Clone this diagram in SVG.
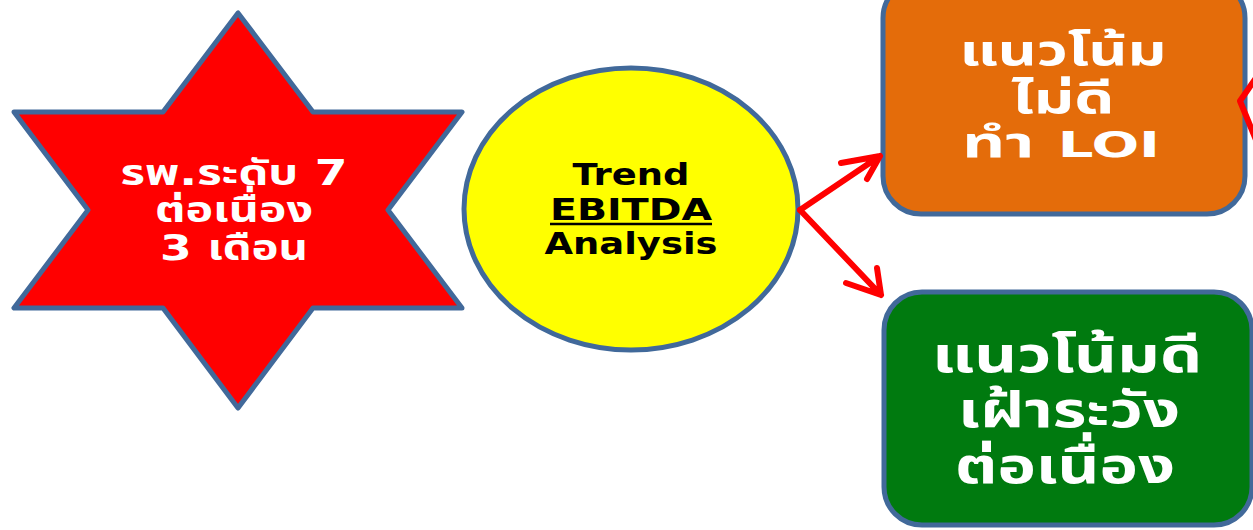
<svg xmlns="http://www.w3.org/2000/svg" width="1253" height="530" viewBox="0 0 1253 530">
<defs>
<style>
.outline{stroke:#41699a;stroke-width:5;stroke-linejoin:round}
.wt{fill:#ffffff;font-family:Tahoma,"DejaVu Sans","Noto Sans","Noto Sans Thai",sans-serif;font-weight:bold;text-anchor:middle}
.bt{fill:#000000;font-family:Tahoma,"DejaVu Sans","Noto Sans",sans-serif;font-weight:bold;text-anchor:middle;font-size:30px}
.arrow{fill:none;stroke:#ff0000;stroke-width:6;stroke-linecap:round;stroke-linejoin:round}
</style>
</defs>
<rect width="1253" height="530" fill="#ffffff"/>
<g id="star">
<polygon class="outline" fill="#ff0000" points="238,13 163,112 14,112 88,210 14,308 163,308 238,408 313,308 462,308 388,210 462,112 313,112"/>
<text class="wt" font-size="35" x="234" y="185" textLength="227" lengthAdjust="spacingAndGlyphs">รพ.ระดับ 7</text>
<text class="wt" font-size="35" x="234" y="222" textLength="158" lengthAdjust="spacingAndGlyphs">ต่อเนื่อง</text>
<text class="wt" font-size="35" x="234" y="260" textLength="148" lengthAdjust="spacingAndGlyphs">3 เดือน</text>
</g>
<g id="circle">
<ellipse class="outline" fill="#ffff00" cx="631" cy="209" rx="167" ry="141"/>
<text class="bt" x="631" y="185" textLength="117" lengthAdjust="spacingAndGlyphs">Trend</text>
<text class="bt" x="631" y="220" textLength="162" lengthAdjust="spacingAndGlyphs">EBITDA</text>
<line x1="550" y1="224" x2="712" y2="224" stroke="#000" stroke-width="2.5"/>
<text class="bt" x="631" y="254" textLength="173" lengthAdjust="spacingAndGlyphs">Analysis</text>
</g>
<g id="bad">
<rect class="outline" fill="#e46c0a" x="883" y="-20" width="362" height="234" rx="38"/>
<text class="wt" font-size="43" x="1063" y="65" textLength="207" lengthAdjust="spacingAndGlyphs">แนวโน้ม</text>
<text class="wt" font-size="43" x="1063" y="113" textLength="103" lengthAdjust="spacingAndGlyphs">ไม่ดี</text>
<text class="wt" font-size="43" x="1061" y="157" textLength="198" lengthAdjust="spacingAndGlyphs"><tspan>ทำ </tspan><tspan font-size="36">LOI</tspan></text>
</g>
<g id="good">
<rect class="outline" fill="#007a0f" x="884" y="292" width="368" height="233" rx="38"/>
<text class="wt" font-size="49" x="1067" y="372" textLength="270" lengthAdjust="spacingAndGlyphs">แนวโน้มดี</text>
<text class="wt" font-size="49" x="1069" y="427" textLength="222" lengthAdjust="spacingAndGlyphs">เฝ้าระวัง</text>
<text class="wt" font-size="49" x="1065" y="483" textLength="220" lengthAdjust="spacingAndGlyphs">ต่อเนื่อง</text>
</g>
<g id="connectors">
<path class="arrow" d="M800,210 L880,156 M841,163 L880,156 L867,179"/>
<path class="arrow" d="M800,210 L881,295 M846,283 L881,295 L877,268"/>
<path class="arrow" d="M1256,78 L1240,101 L1256,140"/>
</g>
</svg>
